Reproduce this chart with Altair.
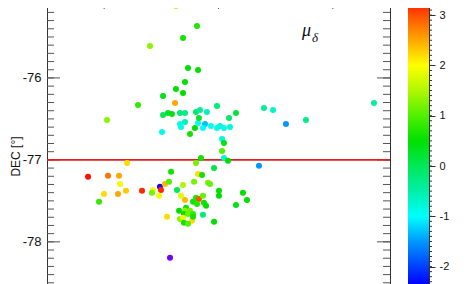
import altair as alt
import pandas as pd

# ---- data (x = RA offset in major-tick units, DEC in degrees, mu = proper motion) ----
ra = [0.901, 1.128, 1.994, 1.312, 1.190, 0.901, 1.233, 1.321, 1.207, 1.128,
      1.190, 1.015, 1.120, 0.796, 0.525, 1.015, 1.058, 1.093, 1.163, 1.207,
      1.303, 1.338, 1.399, 1.487, 1.653, 1.592, 1.898, 1.977, 2.090, 2.265,
      2.860, 1.163, 1.207, 1.172, 1.294, 1.321, 1.382, 1.364, 1.434, 1.487,
      1.513, 1.548, 1.601, 1.006, 1.251, 1.329, 1.531, 1.548, 1.531, 1.548,
      1.347, 1.303, 1.583, 1.461, 1.854, 1.085, 0.700, 0.359, 0.534, 0.630,
      0.639, 0.499, 0.621, 0.691, 0.455, 0.831, 0.988, 0.997, 1.032, 1.067,
      0.927, 0.918, 0.980, 1.137, 1.190, 1.321, 1.356, 1.286, 1.408, 1.426,
      1.504, 1.504, 1.714, 1.749, 1.653, 1.172, 1.207, 1.303, 1.329, 1.364,
      1.277, 1.312, 1.373, 1.391, 1.155, 1.216, 1.207, 1.251, 1.198, 1.233,
      1.277, 1.163, 1.190, 1.268, 1.277, 1.198, 1.233, 1.364, 1.461, 1.050,
      1.076]
dec = [-75.061, -75.122, -75.085, -75.366, -75.512, -75.610, -75.878, -75.902, -76.049, -76.134,
       -76.183, -76.220, -76.305, -76.329, -76.512, -76.451, -76.427, -76.439, -76.427, -76.427,
       -76.415, -76.390, -76.415, -76.341, -76.427, -76.488, -76.366, -76.390, -76.561, -76.512,
       -76.305, -76.561, -76.537, -76.598, -76.610, -76.549, -76.561, -76.610, -76.585, -76.610,
       -76.585, -76.610, -76.598, -76.659, -76.683, -76.488, -76.744, -76.793, -76.890, -76.976,
       -76.976, -77.037, -77.012, -77.098, -77.073, -77.146, -77.037, -77.207, -77.195, -77.195,
       -77.293, -77.415, -77.415, -77.378, -77.512, -77.378, -77.329, -77.366, -77.293, -77.268,
       -77.366, -77.402, -77.439, -77.366, -77.305, -77.171, -77.183, -77.268, -77.280, -77.293,
       -77.378, -77.439, -77.402, -77.488, -77.549, -77.439, -77.488, -77.463, -77.476, -77.439,
       -77.512, -77.537, -77.524, -77.561, -77.622, -77.585, -77.622, -77.622, -77.659, -77.659,
       -77.659, -77.720, -77.707, -77.744, -77.695, -77.768, -77.780, -77.671, -77.756, -77.695,
       -78.195]
mu = [1.9, 1.6, -0.3, 0.7, 0.6, 1.3, 0.5, 0.5, 0.5, 0.5,
      0.5, 0.4, 2.5, 0.8, 1.3, 0.0, 0.3, 0.4, -0.2, -0.3,
      -0.1, -0.4, -0.6, -0.2, 0.2, -0.1, -0.4, -0.7, -1.5, -0.3,
      -0.5, -0.9, -0.6, -0.9, 0.5, -0.9, -1.3, -1.0, -0.9, -0.9,
      -0.8, -0.9, -0.8, -0.9, 0.6, 0.2, -0.8, 0.4, 1.0, -0.7,
      0.6, 1.2, 0.5, 0.1, -1.5, 0.6, 2.2, 3.3, 2.8, 2.5,
      1.9, 2.2, 2.5, 2.3, 0.8, 3.2, -2.4, 3.2, 2.4, 1.0,
      1.9, 1.2, 1.9, 0.0, 1.5, 2.2, 0.6, 1.2, 1.2, 1.1,
      0.5, 0.5, 0.5, 0.5, 0.4, 1.8, 2.4, 0.7, 3.0, 1.1,
      0.6, 0.7, 0.6, 0.5, 0.5, 0.6, 1.3, 1.2, 0.5, 1.1,
      0.8, 1.3, 1.9, 2.2, 0.6, 0.6, 1.0, -0.2, 0.5, 2.2,
      -2.485]

y_major = [-78.0, -77.0, -76.0, -75.0]
y_minor = [round(-78.6 + 0.1 * i, 2) for i in range(37)]
x_major = [0.5, 1.5, 2.5]
x_minor = [0.125 * i for i in range(25)]
cb_labels = [-2, -1, 0, 1, 2, 3]
cb_minor = [round(-2.4 + 0.1 * i, 2) for i in range(58)]

stop_vals = [-2.485, -2.36, -2.0, -1.5, -1.0, -0.5, 0.0, 0.5, 1.0, 1.5, 2.0, 2.5, 3.0, 3.38]
stop_cols = ["#7000ff", "#0000ff", "#0040ff", "#0098ff", "#00ffff", "#00f0a8", "#00e858",
             "#00e000", "#50f000", "#b0f800", "#ffff00", "#ffa800", "#ff5000", "#ff0000"]

XDOM = [0.0, 3.0]
YDOM = [-78.6, -75.0]
CBDOM = [-2.485, 3.38]
W, H = 343, 295
FONT = "Liberation Sans"
TICK = "#555555"

xs = alt.Scale(domain=XDOM, nice=False, zero=False)
ys = alt.Scale(domain=YDOM, nice=False, zero=False)
cs = alt.Scale(domain=stop_vals, range=stop_cols, interpolate="rgb", clamp=True)
cbs = alt.Scale(domain=CBDOM, nice=False, zero=False)

neg_expr = "datum.value < 0 ? '-' + abs(datum.value) : '' + datum.value"

pts = pd.DataFrame({"ra": ra, "dec": dec, "mu": mu})

points = alt.Chart(pts).mark_circle(size=36, opacity=1).encode(
    x=alt.X("ra:Q", scale=xs, axis=None),
    y=alt.Y("dec:Q", scale=ys, axis=alt.Axis(
        values=[-78, -77, -76], ticks=False, tickSize=0, domain=False, grid=False,
        labelFont=FONT, labelFontSize=13, labelColor="#111111", labelPadding=6,
        labelExpr=neg_expr, title="DEC [°]", titleFont=FONT, titleFontSize=12,
        titleFontWeight="normal", titleColor="#111111", titlePadding=0, titleY=160)),
    color=alt.Color("mu:Q", scale=cs, legend=None),
)

redline = alt.Chart(pd.DataFrame({"dec": [-77.0]})).mark_rule(color="#e02020", strokeWidth=1.6).encode(
    y=alt.Y("dec:Q", scale=ys)
)

ymaj = pd.DataFrame({"dec": y_major})
ymin = pd.DataFrame({"dec": y_minor})
xmaj = pd.DataFrame({"ra": x_major})
xmin = pd.DataFrame({"ra": x_minor})

def yticks(df, x0, x1):
    return alt.Chart(df).mark_rule(color=TICK, strokeWidth=1).encode(
        y=alt.Y("dec:Q", scale=ys), x=alt.value(x0), x2=alt.value(x1))

def xticks(df, l):
    return alt.Chart(df).mark_rule(color=TICK, strokeWidth=1).encode(
        x=alt.X("ra:Q", scale=xs, axis=None), y=alt.value(0), y2=alt.value(l))

lbl = pd.DataFrame({"a": ["μ"], "b": ["δ"]})
mu_txt = alt.Chart(lbl).mark_text(font="Liberation Serif", fontStyle="italic", fontSize=18,
                                  align="left", baseline="alphabetic", color="#111111").encode(
    text="a:N", x=alt.value(255), y=alt.value(40))
de_txt = alt.Chart(lbl).mark_text(font="Liberation Serif", fontStyle="italic", fontSize=13,
                                  align="left", baseline="alphabetic", color="#111111").encode(
    text="b:N", x=alt.value(265), y=alt.value(46))

main = alt.layer(
    yticks(ymin, 0, 7), yticks(ymaj, 0, 13), yticks(ymin, W - 7, W), yticks(ymaj, W - 13, W),
    xticks(xmin, 7), xticks(xmaj, 13),
    redline, points, mu_txt, de_txt,
).properties(width=W, height=H)

span = CBDOM[1] - CBDOM[0]
grad = alt.LinearGradient(
    gradient="linear",
    stops=[alt.GradientStop(offset=max(0.0, min(1.0, (v - CBDOM[0]) / span)), color=c)
           for v, c in zip(stop_vals, stop_cols)],
    x1=0, x2=0, y1=1, y2=0,
)
cb_df = pd.DataFrame({"lo": [CBDOM[0]], "hi": [CBDOM[1]]})
bar = alt.Chart(cb_df).mark_rect(color=grad).encode(
    y=alt.Y("lo:Q", scale=cbs, axis=alt.Axis(
        orient="right", values=cb_labels, tickSize=6, tickColor="#333333", tickWidth=1,
        domain=False, grid=False, labelFont=FONT, labelFontSize=11, labelColor="#111111",
        labelPadding=4, labelExpr=neg_expr, title=None)),
    y2="hi:Q",
    x=alt.value(0), x2=alt.value(21),
)
cbmin = alt.Chart(pd.DataFrame({"lo": cb_minor})).mark_rule(color="#333333", strokeWidth=1).encode(
    y=alt.Y("lo:Q", scale=cbs), x=alt.value(21), x2=alt.value(24))

cbar = alt.layer(bar, cbmin).properties(width=21, height=H)

chart = alt.hconcat(main, cbar, spacing=15).properties(
    padding={"left": 0, "top": -13, "right": 0, "bottom": 0}
).configure_view(stroke="#333333", strokeWidth=1)

chart.save("out.html", embed_options={"renderer": "svg", "actions": False})
